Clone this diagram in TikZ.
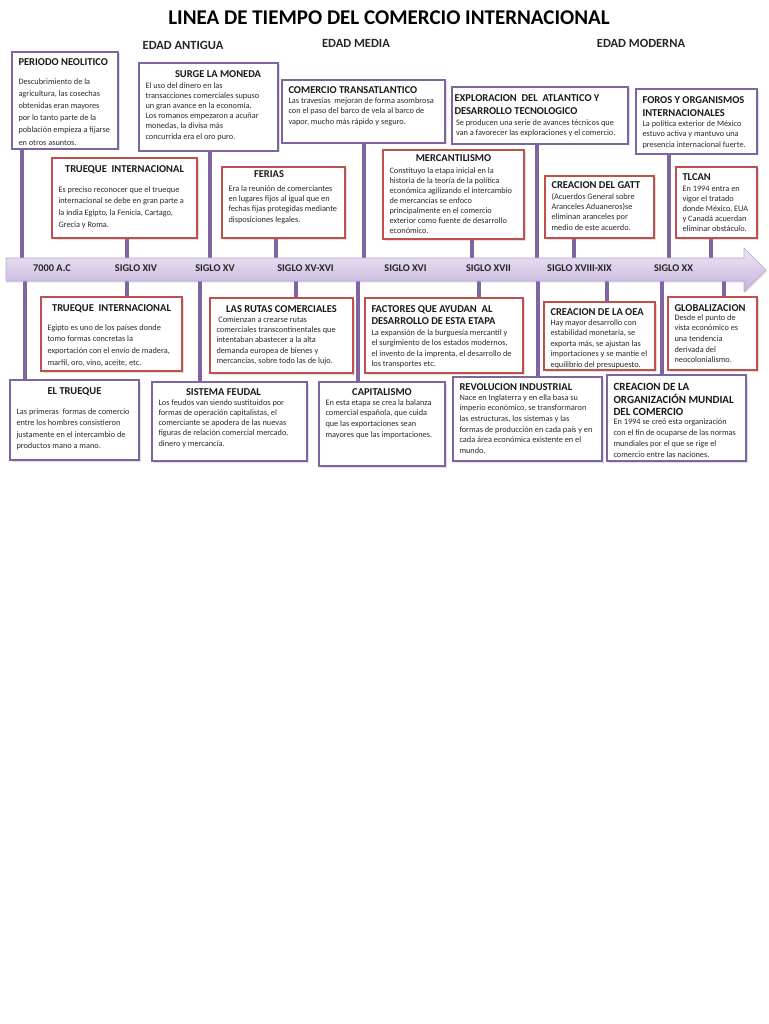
\documentclass[tikz,border=0pt]{standalone}
\usepackage{fontspec}
\setmainfont{Carlito}
\usetikzlibrary{shadows,calc}
\definecolor{purp}{HTML}{8064A2}
\definecolor{redb}{HTML}{C0504D}
\definecolor{txt}{HTML}{2A2A2A}
\definecolor{bandtop}{HTML}{EFE8F6}
\definecolor{bandbot}{HTML}{C3B1DB}
\definecolor{bandline}{HTML}{B7A5D0}
\pgfdeclarelayer{bg}
\pgfsetlayers{bg,main}
\setlength\parskip{0pt}
\newcommand\titlef{\bfseries\fontsize{10.5}{13}\selectfont\color{black!90}}
% #1 width, #2 height, #3 top space, #4 title, #5 gap, #6 body baselineskip, #7 body
\newcommand\bxt[7]{\begin{minipage}[t][#2pt][t]{#1pt}\vspace*{#3pt}{\titlef\leavevmode#4\par}\vspace{#5pt}{\fontsize{8.3}{#6}\selectfont\noindent\begin{tabular}[t]{@{}l@{}}#7\end{tabular}\par}\end{minipage}}
\begin{document}
\begin{tikzpicture}[x=1pt,y=-1pt,
  pbox/.style={draw=purp, line width=2.2pt, fill=white, drop shadow={opacity=0.25,shadow xshift=1.5pt,shadow yshift=-1.5pt}, inner xsep=6.5pt, inner ysep=0pt, anchor=north west, outer sep=0pt, text=txt},
  rbox/.style={pbox, draw=redb, line width=1.4pt},
  conn/.style={draw=purp, line width=3.4pt},
  lbl/.style={font=\bfseries\fontsize{10.3}{12}\selectfont, text=black!85},
  hdr/.style={font=\bfseries\fontsize{12.5}{14}\selectfont, text=black!85}]
\useasboundingbox (0,0) rectangle (768,1024);
\begin{pgfonlayer}{bg}
\fill[white] (0,0) rectangle (768,1024);
\end{pgfonlayer}

% title and headers
\node[font=\bfseries\fontsize{21}{24}\selectfont, text=black] (title) at (389,18) {LINEA DE TIEMPO DEL COMERCIO INTERNACIONAL};
\node[hdr] (antigua) at (183,45) {EDAD ANTIGUA};
\node[hdr] (media) at (356,43) {EDAD MEDIA};
\node[hdr] (moderna) at (641,43) {EDAD MODERNA};

% band
\coordinate (bandT) at (0,258);
\coordinate (bandB) at (0,281);
\path[top color=bandtop, bottom color=bandbot, draw=bandline, line width=0.6pt,
  drop shadow={opacity=0.2,shadow xshift=1pt,shadow yshift=-1.5pt}]
  (6,258) -- (744,258) -- (744,248) -- (766,270) -- (744,292) -- (744,281) -- (6,281) -- cycle;
\node[lbl] (l1) at (52,268) {7000 A.C};
\node[lbl] (l2) at (136,268) {SIGLO XIV};
\node[lbl] (l3) at (215,268) {SIGLO XV};
\node[lbl] (l4) at (305.5,268) {SIGLO XV-XVI};
\node[lbl] (l5) at (405.5,268) {SIGLO XVI};
\node[lbl] (l6) at (488.5,268) {SIGLO XVII};
\node[lbl] (l7) at (579.5,268) {SIGLO XVIII-XIX};
\node[lbl] (l8) at (673.5,268) {SIGLO XX};

% upper boxes
\node[pbox] (neo) at (12,52) {\bxt{93}{97}{6.6}{\mbox{PERIODO NEOLITICO}}{6.4}{12.2}{Descubrimiento de la\\ agricultura, las cosechas\\ obtenidas eran mayores\\ por lo tanto parte de la\\ población empieza a fijarse\\ en otros asuntos.}};
\node[pbox] (moneda) at (139,63) {\bxt{126}{88}{7.6}{\hspace*{29.5pt}\mbox{SURGE LA MONEDA}}{0.4}{10.2}{El uso del dinero en las\\ transacciones comerciales supuso\\ un gran avance en la economía.\\ Los romanos empezaron a acuñar\\ monedas, la divisa más\\ concurrida era el oro puro.}};
\node[rbox] (truequeup) at (52,158) {\bxt{132}{80}{7.6}{\centering\mbox{TRUEQUE\ \ INTERNACIONAL}}{7.9}{11.7}{Es preciso reconocer que el trueque\\ internacional se debe en gran parte a\\ la india Egipto, la Fenicia, Cartago,\\ Grecia y Roma.}};
\node[rbox] (ferias) at (222,167) {\bxt{110}{71}{3.6}{\hspace*{25.5pt}\mbox{FERIAS}}{3.2}{10.4}{Era la reunión de comerciantes\\ en lugares fijos al igual que en\\ fechas fijas protegidas mediante\\ disposiciones legales.}};
\node[pbox] (transat) at (282,80) {\bxt{150}{63}{6.6}{\mbox{COMERCIO TRANSATLANTICO}}{-1.2}{10.8}{Las travesías\ \ mejoran de forma asombrosa\\ con el paso del barco de vela al barco de\\ vapor, mucho más rápido y seguro.}};
\node[rbox] (mercant) at (383,150) {\bxt{128}{89}{4.6}{\centering\mbox{MERCANTILISMO}}{1.6}{10}{Constituyo la etapa inicial en la\\ historia de la teoría de la política\\ económica agilizando el intercambio\\ de mercancías se enfoco\\ principalmente en el comercio\\ exterior como fuente de desarrollo\\ económico.}};
\node[pbox] (explor) at (452,87) {\bxt{163}{57}{7.6}{\hspace*{-4pt}\mbox{EXPLORACION\ \ DEL\ \ ATLANTICO Y}\\\hspace*{-4pt}\mbox{DESARROLLO TECNOLOGICO}}{-0.1}{10.7}{\hspace*{-2.5pt}Se producen una serie de avances técnicos que\\ \hspace*{-2.5pt}van a favorecer las exploraciones y el comercio.}};
\node[rbox] (gatt) at (545,176) {\bxt{96}{62}{5.6}{\mbox{CREACION DEL GATT}}{0.2}{10.4}{(Acuerdos General sobre\\ Aranceles Aduaneros)se\\ eliminan aranceles por\\ medio de este acuerdo.}};
\node[pbox] (foros) at (636,89) {\bxt{108}{65}{7.6}{\mbox{FOROS Y ORGANISMOS}\\\mbox{INTERNACIONALES}}{-1.1}{10.7}{La política exterior de México\\ estuvo activa y mantuvo una\\ presencia internacional fuerte.}};
\node[rbox] (tlcan) at (676,167) {\bxt{68}{71}{6.6}{\mbox{TLCAN}}{0.4}{10.2}{En 1994 entra en\\ vigor el tratado\\ donde México, EUA\\ y Canadá acuerdan\\ eliminar obstáculo.}};

% lower boxes
\node[rbox] (truequelow) at (41,297) {\bxt{128}{74}{7.6}{\centering\mbox{TRUEQUE\ \ INTERNACIONAL}}{6.9}{11.7}{Egipto es uno de los países donde\\ tomo formas concretas la\\ exportación con el envío de madera,\\ marfil, oro, vino, aceite, etc.}};
\node[pbox] (eltrueque) at (10,380) {\bxt{116}{80}{7.6}{\centering\mbox{EL TRUEQUE}}{8.1}{11.5}{Las primeras\ \ formas de comercio\\ entre los hombres consistieron\\ justamente en el intercambio de\\ productos mano a mano.}};
\node[rbox] (rutas) at (210,298) {\bxt{130}{75}{7.6}{\centering\mbox{LAS RUTAS COMERCIALES}}{-0.8}{10.4}{\ Comienzan a crearse rutas\\ comerciales transcontinentales que\\ intentaban abastecer a la alta\\ demanda europea de bienes y\\ mercancías, sobre todo las de lujo.}};
\node[pbox] (feudal) at (152,382) {\bxt{142}{79}{6.6}{\hspace*{27.5pt}\mbox{SISTEMA FEUDAL}}{-0.7}{10.3}{Los feudos van siendo sustituidos por\\ formas de operación capitalistas, el\\ comerciante se apodera de las nuevas\\ figuras de relación comercial mercado,\\ dinero y mercancía.}};
\node[pbox] (capital) at (319,382) {\bxt{113}{84}{6.6}{\centering\mbox{CAPITALISMO}}{-1.2}{10.8}{En esta etapa se crea la balanza\\ comercial española, que cuida\\ que las exportaciones sean\\ mayores que las importaciones.}};
\node[rbox] (factores) at (365,298) {\bxt{145}{75}{7.6}{\fontsize{10.5}{12}\selectfont\mbox{FACTORES QUE AYUDAN\ \ AL}\\\mbox{DESARROLLO DE ESTA ETAPA}}{0}{10.6}{La expansión de la burguesía mercantil y\\ el surgimiento de los estados modernos,\\ el invento de la imprenta, el desarrollo de\\ los transportes etc.}};
\node[pbox] (revol) at (453,377) {\bxt{136}{84}{6.6}{\mbox{REVOLUCION INDUSTRIAL}}{-1.1}{10.7}{Nace en Inglaterra y en ella basa su\\ imperio económico, se transformaron\\ las estructuras, los sistemas y las\\ formas de producción en cada país y en\\ cada área económica existente en el\\ mundo.}};
\node[rbox] (oea) at (544,302) {\bxt{98}{68}{6.6}{\mbox{CREACION DE LA OEA}}{-1}{10.6}{Hay mayor desarrollo con\\ estabilidad monetaria, se\\ exporta más, se ajustan las\\ importaciones y se mantie el\\ equilibrio del presupuesto.}};
\node[rbox] (glob) at (668,297) {\bxt{76}{73}{7.6}{\mbox{GLOBALIZACION}}{-2.1}{10.7}{Desde el punto de\\ vista económico es\\ una tendencia\\ derivada del\\ neocolonialismo.}};
\node[pbox] (omc) at (607,375) {\bxt{126}{86}{8.3}{\fontsize{11}{12.5}\selectfont\mbox{CREACION DE LA}\\\mbox{ORGANIZACIÓN MUNDIAL}\\\mbox{DEL COMERCIO}}{-2.4}{11}{En 1994 se creó esta organización\\ con el fin de ocuparse de las normas\\ mundiales por el que se rige el\\ comercio entre las naciones.}};

% connectors
\begin{pgfonlayer}{bg}
\draw[conn] ([xshift=10pt]neo.south west) -- ([xshift=10pt]neo.south west |- bandT);
\draw[conn] ([xshift=71pt]moneda.south west) -- ([xshift=71pt]moneda.south west |- bandT);
\draw[conn] ([xshift=75pt]truequeup.south west) -- ([xshift=75pt]truequeup.south west |- bandT);
\draw[conn] ([xshift=54pt]ferias.south west) -- ([xshift=54pt]ferias.south west |- bandT);
\draw[conn] ([xshift=82pt]transat.south west) -- ([xshift=82pt]transat.south west |- bandT);
\draw[conn] ([xshift=89pt]mercant.south west) -- ([xshift=89pt]mercant.south west |- bandT);
\draw[conn] ([xshift=85pt]explor.south west) -- ([xshift=85pt]explor.south west |- bandT);
\draw[conn] ([xshift=29pt]gatt.south west) -- ([xshift=29pt]gatt.south west |- bandT);
\draw[conn] ([xshift=33pt]foros.south west) -- ([xshift=33pt]foros.south west |- bandT);
\draw[conn] ([xshift=35pt]tlcan.south west) -- ([xshift=35pt]tlcan.south west |- bandT);
\draw[conn] ([xshift=15pt]eltrueque.north west) -- ([xshift=15pt]eltrueque.north west |- bandB);
\draw[conn] ([xshift=86pt]truequelow.north west) -- ([xshift=86pt]truequelow.north west |- bandB);
\draw[conn] ([xshift=48pt]feudal.north west) -- ([xshift=48pt]feudal.north west |- bandB);
\draw[conn] ([xshift=86pt]rutas.north west) -- ([xshift=86pt]rutas.north west |- bandB);
\draw[conn] ([xshift=39pt]capital.north west) -- ([xshift=39pt]capital.north west |- bandB);
\draw[conn] ([xshift=114pt]factores.north west) -- ([xshift=114pt]factores.north west |- bandB);
\draw[conn] ([xshift=85pt]revol.north west) -- ([xshift=85pt]revol.north west |- bandB);
\draw[conn] ([xshift=63pt]oea.north west) -- ([xshift=63pt]oea.north west |- bandB);
\draw[conn] ([xshift=55pt]omc.north west) -- ([xshift=55pt]omc.north west |- bandB);
\draw[conn] ([xshift=56pt]glob.north west) -- ([xshift=56pt]glob.north west |- bandB);
\end{pgfonlayer}
\end{tikzpicture}
\end{document}
